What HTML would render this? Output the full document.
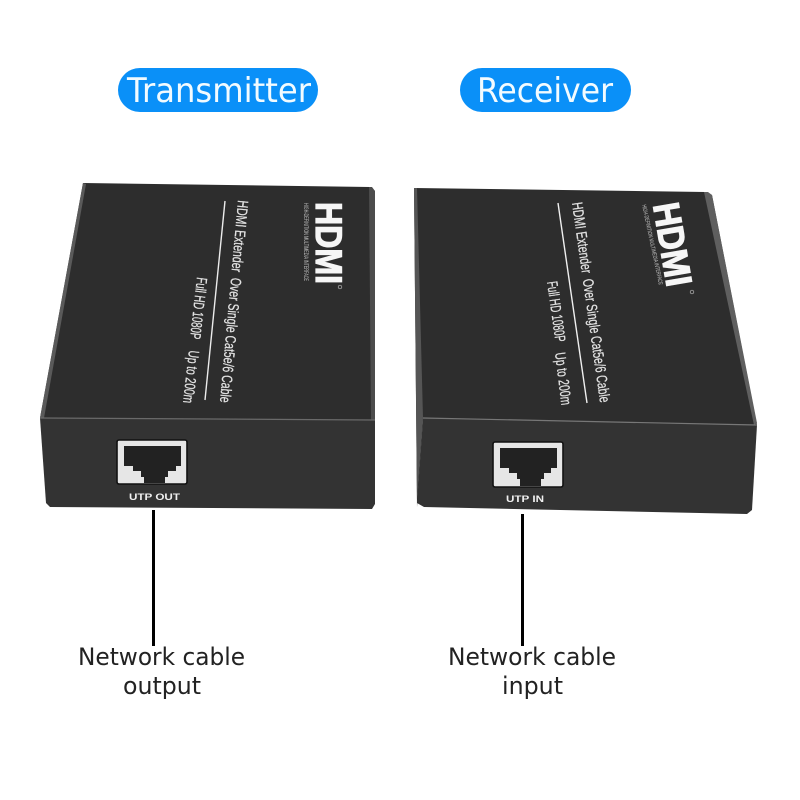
<!DOCTYPE html>
<html><head><meta charset="utf-8"><style>
html,body{margin:0;padding:0;background:#fff;width:800px;height:800px;overflow:hidden}
svg{display:block}
.l{font-family:"DejaVu Sans","Liberation Sans",sans-serif;fill:#222;font-size:24px}
.p{font-family:"DejaVu Sans","Liberation Sans",sans-serif;fill:#f2fbff;font-size:34px}
.n{font-family:"Liberation Sans",sans-serif;fill:#e2e2e2;font-size:15px;stroke:#e2e2e2;stroke-width:.25}
.h{font-family:"Liberation Sans",sans-serif;font-weight:bold;fill:#f6f6f6;stroke:#f6f6f6;stroke-width:1.2;font-size:37px}
.s{font-family:"Liberation Sans",sans-serif;fill:#c4c4c4;font-size:6px}
.u{font-family:"Liberation Sans",sans-serif;font-weight:bold;fill:#f0f0f0;font-size:9.5px}
</style></head><body>
<svg width="800" height="800" viewBox="0 0 800 800" xmlns="http://www.w3.org/2000/svg">
<rect width="800" height="800" fill="#fff"/>
<rect x="118" y="68" width="200" height="44" rx="22" fill="#0a90f8"/>
<rect x="460" y="68" width="171" height="44" rx="22" fill="#0a90f8"/>
<text class="p" x="127" y="102" textLength="184" lengthAdjust="spacingAndGlyphs">Transmitter</text>
<text class="p" x="477" y="102" textLength="136" lengthAdjust="spacingAndGlyphs">Receiver</text>

<!-- Left box -->
<polygon points="83,183 370,187 375,191 375,420 40,418" fill="#2d2d2d"/>
<polygon points="83,183 86,184 44,418 40,418" fill="#5a5a5a"/>
<polygon points="369,187 372,187 375,191 375,420 371,420" fill="#4c4c4c"/>
<polygon points="40,418 375,420 375,504 372,509 50,507 46,503" fill="#333"/>
<line x1="40" y1="418" x2="375" y2="420" stroke="#6a6a6a" stroke-width="1.2"/>
<line x1="225" y1="201" x2="205" y2="400" stroke="#ececec" stroke-width="1.4"/>
<text class="n" transform="translate(238,200) rotate(95.1)" textLength="203" lengthAdjust="spacingAndGlyphs" xml:space="preserve">HDMI Extender  Over Single Cat5e/6 Cable</text>
<text class="n" transform="translate(197,277) rotate(96.5)" textLength="62" lengthAdjust="spacingAndGlyphs">Full HD 1080P</text>
<text class="n" transform="translate(189,350) rotate(96.5)" textLength="53" lengthAdjust="spacingAndGlyphs">Up to 200m</text>
<text class="h" transform="translate(316,202) rotate(90)" textLength="82" lengthAdjust="spacingAndGlyphs">HDMI</text>
<text class="s" transform="translate(304,203) rotate(90)" textLength="78" lengthAdjust="spacingAndGlyphs">HIGH-DEFINITION MULTIMEDIA INTERFACE</text>
<circle cx="340" cy="287" r="1.8" fill="none" stroke="#bbb" stroke-width=".7"/>
<rect x="117" y="440" width="70" height="44" rx="2" fill="#e6e6e6" stroke="#111" stroke-width="1.6"/>
<polygon points="124,446 181,446 181,466 176,466 176,471 168,471 168,477 141,477 141,471 133,471 133,466 124,466" fill="#222"/>
<rect x="144" y="477" width="21" height="6" fill="#222"/>
<text class="u" x="129" y="500" textLength="51" lengthAdjust="spacingAndGlyphs">UTP OUT</text>

<!-- Right box -->
<polygon points="414,188 705,192 712,195 757,425 423,418 417,507" fill="#2d2d2d"/>
<polygon points="414,188 417,188 423,418 417,500" fill="#555"/>
<polygon points="704,192 708,192 712,195 757,423 754,425" fill="#5f5f5f"/>
<polygon points="423,418 757,425 752,510 747,514 424,507 417,503" fill="#333"/>
<line x1="423" y1="418" x2="757" y2="425" stroke="#777" stroke-width="1.2"/>
<line x1="558" y1="203" x2="587" y2="403" stroke="#f0f0f0" stroke-width="1.4"/>
<text class="n" transform="translate(572,203) rotate(82)" textLength="202" lengthAdjust="spacingAndGlyphs" xml:space="preserve">HDMI Extender  Over Single Cat5e/6 Cable</text>
<text class="n" transform="translate(547,282) rotate(82)" textLength="61" lengthAdjust="spacingAndGlyphs">Full HD 1080P</text>
<text class="n" transform="translate(555,353) rotate(83)" textLength="53" lengthAdjust="spacingAndGlyphs">Up to 200m</text>
<text class="h" transform="translate(653,205) rotate(80.4)" textLength="84" lengthAdjust="spacingAndGlyphs">HDMI</text>
<text class="s" transform="translate(642,205) rotate(78)" textLength="82" lengthAdjust="spacingAndGlyphs">HIGH-DEFINITION MULTIMEDIA INTERFACE</text>
<circle cx="692" cy="292" r="1.8" fill="none" stroke="#bbb" stroke-width=".7"/>
<rect x="493" y="442" width="70" height="45" rx="2" fill="#e6e6e6" stroke="#111" stroke-width="1.6"/>
<polygon points="500,448 557,448 557,468 551,468 551,473 544,473 544,479 517,479 517,473 509,473 509,468 500,468" fill="#222"/>
<rect x="520" y="479" width="21" height="7" fill="#222"/>
<text class="u" x="506" y="502" textLength="38" lengthAdjust="spacingAndGlyphs">UTP IN</text>

<!-- Connectors -->
<rect x="152" y="510" width="3" height="136" fill="#000"/>
<rect x="521" y="514" width="3" height="132" fill="#000"/>
<text class="l" x="78" y="665" textLength="167" lengthAdjust="spacingAndGlyphs">Network cable</text>
<text class="l" x="123" y="694" textLength="78" lengthAdjust="spacingAndGlyphs">output</text>
<text class="l" x="448" y="665" textLength="168" lengthAdjust="spacingAndGlyphs">Network cable</text>
<text class="l" x="502" y="694" textLength="61" lengthAdjust="spacingAndGlyphs">input</text>
</svg>
</body></html>
